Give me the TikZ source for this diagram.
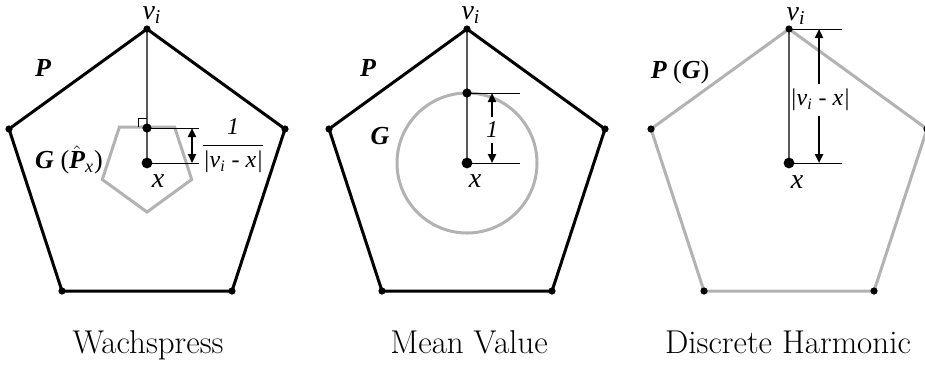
\documentclass[tikz,border=0pt]{standalone}
\usepackage{fontspec}
\usepackage{amsmath}
\usepackage{tikz}
\usetikzlibrary{positioning,arrows.meta}
\newfontfamily\tmsfont{Liberation Serif}
\definecolor{polyGray}{HTML}{B2B2B2}
\definecolor{guideGray}{HTML}{5A5A5A}
\newcommand{\vsub}{v\textsubscript{i}}

\begin{document}
\begin{tikzpicture}[
    x=0.5pt, y=-0.5pt,
    outerpoly/.style = {draw=black, line width=1.5pt, line join=miter},
    innerpoly/.style = {draw=polyGray, line width=1.5pt},
    guide/.style     = {draw=guideGray, line width=0.6pt},
    tickln/.style    = {draw=black, line width=0.45pt},
    dimarr/.style    = {draw=black, line width=1.1pt, {Triangle[length=4.5pt,width=4pt]}-{Triangle[length=4.5pt,width=4pt]}},
    halfarr/.style   = {draw=black, line width=1.1pt, -{Triangle[length=4.5pt,width=4pt]}},
    vdot/.style      = {circle, fill=black, inner sep=0pt, minimum size=3.6pt},
    qdot/.style      = {circle, fill=black, inner sep=0pt, minimum size=4.6pt},
    xdot/.style      = {circle, fill=black, inner sep=0pt, minimum size=5.4pt},
    lbl/.style       = {font=\tmsfont\itshape\fontsize{14}{16}\selectfont, inner sep=1pt, anchor=base},
    blbl/.style      = {font=\tmsfont\bfseries\itshape\fontsize{13}{15}\selectfont, inner sep=1pt},
    dimlbl/.style    = {font=\tmsfont\itshape\fontsize{12}{14}\selectfont, inner sep=2.4pt},
    caption/.style   = {font=\fontsize{16.5}{20}\selectfont, anchor=base}
  ]
  \useasboundingbox (0,0) rectangle (925,366);

  % the three outer pentagons
  \foreach \cx/\nm/\sty in {147/wp/outerpoly, 467/mv/outerpoly, 789/dh/innerpoly}{
    \coordinate (\nm-t)  at (\cx,29);
    \coordinate (\nm-l)  at (\cx-138,129);
    \coordinate (\nm-r)  at (\cx+138,129);
    \coordinate (\nm-bl) at (\cx-85,291);
    \coordinate (\nm-br) at (\cx+85,291);
    \coordinate (\nm-x)  at (\cx,163);
    \draw[\sty] (\nm-t) -- (\nm-r) -- (\nm-br) -- (\nm-bl) -- (\nm-l) -- cycle;
  }

  % Wachspress
  \draw[innerpoly] (119.4,127) -- (174.6,127) -- (191.7,179.5) -- (147,212) -- (102.3,179.5) -- cycle;
  \coordinate (wp-q) at (147,128);
  \coordinate (wp-up) at (192,128);
  \coordinate (wp-dn) at (192,163);
  \draw[guide] (wp-t) -- (wp-x);
  \draw[tickln] (138,127) -- (138,118) -- (147,118);
  \draw[tickln] (wp-q) -- (199,128);
  \draw[tickln] (wp-x) -- (199,163);
  \draw[dimarr] (wp-up) -- (wp-dn);
  \node[qdot] (wp-qd) at (wp-q) {};
  \node[xdot] (wp-xd) at (wp-x) {};
  \node[dimlbl, inner sep=1pt] (wp-frac) at (233,146) {$\dfrac{\mbox{1}}{\mbox{|\vsub\ - x|}}$};
  \node[blbl] (wp-P) at (43,68) {P};
  \node[blbl] (wp-G) at (69,160) {G {\mdseries\upshape(}$\hat{\mbox{P}}$\textsubscript{\mdseries x}{\mdseries\upshape)}};
  \node[lbl] (wp-vi) at (152,19) {\vsub};
  \node[lbl] (wp-xl) at (158,187) {x};

  % Mean Value
  \draw[innerpoly] (mv-x) circle (70);
  \coordinate (mv-q) at (467,93);
  \coordinate (mv-up) at (492,93);
  \coordinate (mv-dn) at (492,163);
  \draw[guide] (mv-t) -- (mv-x);
  \draw[tickln] (mv-q) -- (520,93);
  \draw[tickln] (mv-x) -- (520,163);
  \node[dimlbl] (mv-one) at (492,130) {1};
  \draw[halfarr] (mv-one) -- (mv-up);
  \draw[halfarr] (mv-one) -- (mv-dn);
  \node[qdot] (mv-qd) at (mv-q) {};
  \node[xdot] (mv-xd) at (mv-x) {};
  \node[blbl] (mv-P) at (368,68) {P};
  \node[blbl] (mv-G) at (380,136) {G};
  \node[lbl] (mv-vi) at (471,19) {\vsub};
  \node[lbl] (mv-xl) at (475,187) {x};

  % Discrete Harmonic
  \coordinate (dh-up) at (819,29);
  \coordinate (dh-dn) at (819,163);
  \draw[guide] (dh-t) -- (dh-x);
  \draw[tickln] (dh-t) -- (842,29);
  \draw[tickln] (dh-x) -- (842,163);
  \node[dimlbl] (dh-len) at (820,100) {|\vsub\ - x|};
  \draw[halfarr] (dh-len.north -| dh-up) -- (dh-up);
  \draw[halfarr] (dh-len.south -| dh-dn) -- (dh-dn);
  \node[xdot] (dh-xd) at (dh-x) {};
  \node[blbl] (dh-PG) at (680,72) {P {\mdseries\upshape(}G{\mdseries\upshape)}};
  \node[lbl] (dh-vi) at (796,20) {\vsub};
  \node[lbl] (dh-xl) at (797,188) {x};

  % vertex dots
  \foreach \nm in {wp,mv,dh}{
    \foreach \k in {t,l,r,bl,br}{
      \node[vdot] (\nm-\k d) at (\nm-\k) {};
    }
  }

  \node[caption] (wp-cap) at (148,353) {Wachspress};
  \node[caption] (mv-cap) at (469,353) {Mean Value};
  \node[caption] (dh-cap) at (788,353) {Discrete Harmonic};
\end{tikzpicture}
\end{document}
